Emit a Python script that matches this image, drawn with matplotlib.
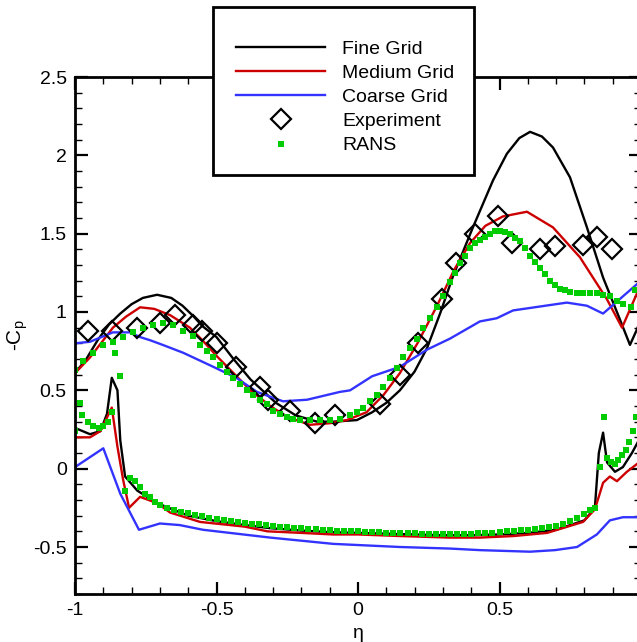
import matplotlib
matplotlib.use('Agg')
from matplotlib import pyplot as plt
from matplotlib.patches import Rectangle
from matplotlib.ticker import MultipleLocator, FuncFormatter

plt.rcParams['font.family'] = ['Liberation Sans', 'DejaVu Sans']

# Fine grid
fine_up_x = [-1.0, -0.96, -0.92, -0.88, -0.84, -0.80, -0.76, -0.71, -0.66, -0.62, -0.58, -0.55, -0.50, -0.44,
             -0.38, -0.29, -0.22, -0.145, -0.088, -0.004, 0.05, 0.10, 0.148, 0.20, 0.244, 0.29, 0.336, 0.406,
             0.477, 0.526, 0.57, 0.608, 0.65, 0.689, 0.749, 0.809, 0.866, 0.926, 0.961, 0.986, 1.0]
fine_up_y = [0.61, 0.70, 0.82, 0.92, 0.99, 1.05, 1.09, 1.11, 1.09, 1.04, 0.97, 0.91, 0.84, 0.70,
             0.57, 0.42, 0.34, 0.30, 0.30, 0.31, 0.36, 0.42, 0.50, 0.62, 0.77, 0.99, 1.23, 1.54,
             1.84, 2.01, 2.11, 2.15, 2.12, 2.05, 1.86, 1.54, 1.22, 0.95, 0.79, 0.89, 0.96]
fine_lo_x = [-1.0, -0.947, -0.91, -0.887, -0.87, -0.85, -0.84, -0.823, -0.78, -0.71, -0.60, -0.50, -0.40,
             -0.31, -0.20, -0.10, 0.0, 0.1, 0.2, 0.3, 0.4, 0.5, 0.6, 0.7, 0.8, 0.837, 0.851, 0.866,
             0.88, 0.908, 0.936, 0.968, 0.986, 1.0]
fine_lo_y = [0.26, 0.22, 0.24, 0.35, 0.58, 0.50, 0.18, -0.05, -0.14, -0.22, -0.30, -0.335, -0.36,
             -0.38, -0.395, -0.405, -0.41, -0.415, -0.42, -0.425, -0.425, -0.42, -0.41, -0.39, -0.33, -0.25,
             0.10, 0.23, 0.04, -0.02, 0.01, 0.10, 0.16, 0.21]

# Medium grid
med_up_x = [-1.0, -0.947, -0.90, -0.866, -0.82, -0.77, -0.72, -0.664, -0.594, -0.55, -0.50, -0.44, -0.38,
            -0.31, -0.25, -0.17, -0.10, -0.04, 0.03, 0.09, 0.148, 0.21, 0.265, 0.29, 0.34, 0.396, 0.45,
            0.512, 0.597, 0.689, 0.784, 0.88, 0.933, 0.986, 1.0]
med_up_y = [0.61, 0.71, 0.82, 0.90, 0.97, 1.03, 1.02, 0.98, 0.90, 0.82, 0.72, 0.61, 0.50,
            0.40, 0.33, 0.28, 0.29, 0.31, 0.36, 0.47, 0.61, 0.80, 0.99, 1.08, 1.27, 1.44, 1.55,
            1.61, 1.64, 1.54, 1.35, 1.08, 0.90, 1.12, 1.17]
med_lo_x = [-1.0, -0.947, -0.91, -0.87, -0.85, -0.83, -0.809, -0.77, -0.71, -0.664, -0.558, -0.40, -0.32,
            -0.2, -0.088, 0.0, 0.148, 0.325, 0.43, 0.55, 0.668, 0.795, 0.837, 0.866, 0.89, 0.915, 0.95,
            0.986, 1.0]
med_lo_y = [0.20, 0.20, 0.24, 0.39, 0.14, -0.07, -0.25, -0.18, -0.22, -0.28, -0.34, -0.37, -0.40,
            -0.41, -0.42, -0.42, -0.43, -0.44, -0.44, -0.43, -0.41, -0.34, -0.26, -0.09, -0.05, -0.08, -0.02,
            0.03, 0.05]

# Coarse grid
coarse_up_x = [-1.0, -0.947, -0.866, -0.806, -0.77, -0.735, -0.69, -0.618, -0.523, -0.43, -0.406, -0.357,
               -0.265, -0.18, -0.064, -0.028, 0.05, 0.148, 0.244, 0.325, 0.431, 0.49, 0.548, 0.738, 0.809,
               0.866, 1.0]
coarse_up_y = [0.80, 0.81, 0.87, 0.87, 0.84, 0.82, 0.79, 0.74, 0.66, 0.58, 0.55, 0.49,
               0.43, 0.44, 0.49, 0.50, 0.59, 0.65, 0.76, 0.83, 0.94, 0.96, 1.01, 1.06, 1.04,
               0.99, 1.20]
coarse_lo_x = [-1.0, -0.9, -0.84, -0.774, -0.70, -0.63, -0.548, -0.31, -0.088, 0.148, 0.325, 0.431, 0.608,
               0.696, 0.774, 0.844, 0.89, 0.936, 1.0]
coarse_lo_y = [0.01, 0.13, -0.16, -0.39, -0.35, -0.36, -0.39, -0.44, -0.48, -0.50, -0.51, -0.52, -0.53,
               -0.52, -0.50, -0.42, -0.33, -0.31, -0.31]

# Experiment
exp_x = [-0.954, -0.87, -0.78, -0.70, -0.647, -0.583, -0.55, -0.498, -0.43, -0.346, -0.318, -0.24, -0.152,
         -0.081, 0.078, 0.148, 0.212, 0.297, 0.346, 0.413, 0.495, 0.544, 0.643, 0.696, 0.795, 0.844, 0.898]
exp_y = [0.88, 0.88, 0.90, 0.93, 0.98, 0.92, 0.88, 0.80, 0.65, 0.52, 0.44, 0.37, 0.29,
         0.34, 0.41, 0.60, 0.80, 1.08, 1.31, 1.50, 1.61, 1.44, 1.40, 1.42, 1.43, 1.48, 1.40]

# RANS
rans_up_x = [-1.0, -0.972, -0.936, -0.901, -0.866, -0.830, -0.795, -0.760, -0.724, -0.689, -0.654, -0.618,
             -0.583, -0.558, -0.534, -0.512, -0.488, -0.463, -0.442, -0.417, -0.392, -0.371, -0.346, -0.322,
             -0.300, -0.276, -0.251, -0.230, -0.205, -0.170, -0.134, -0.099, -0.064, -0.028, -0.004, 0.018,
             0.042, 0.067, 0.088, 0.113, 0.138, 0.159, 0.184, 0.208, 0.230, 0.254, 0.279, 0.300, 0.325,
             0.343, 0.360, 0.378, 0.396, 0.413, 0.431, 0.449, 0.466, 0.484, 0.502, 0.519, 0.537, 0.555,
             0.572, 0.590, 0.608, 0.625, 0.643, 0.661, 0.678, 0.696, 0.714, 0.731, 0.749, 0.774, 0.795,
             0.820, 0.845, 0.866, 0.890, 0.915, 0.936, 0.965, 0.98]
rans_up_y = [0.63, 0.69, 0.74, 0.79, 0.81, 0.84, 0.87, 0.90, 0.92, 0.93, 0.92, 0.88,
             0.85, 0.79, 0.75, 0.71, 0.66, 0.62, 0.58, 0.54, 0.50, 0.47, 0.44, 0.41,
             0.37, 0.35, 0.33, 0.32, 0.31, 0.31, 0.31, 0.31, 0.32, 0.34, 0.36, 0.39,
             0.43, 0.47, 0.52, 0.58, 0.64, 0.71, 0.77, 0.83, 0.90, 0.96, 1.03, 1.10, 1.19,
             1.25, 1.31, 1.36, 1.41, 1.44, 1.46, 1.48, 1.50, 1.52, 1.52, 1.51, 1.50, 1.47,
             1.45, 1.41, 1.36, 1.32, 1.28, 1.24, 1.20, 1.17, 1.15, 1.14, 1.13, 1.12, 1.12,
             1.12, 1.12, 1.11, 1.10, 1.07, 1.05, 1.03, 1.14]
rans_lo_x = [-1.0, -0.982, -0.975, -0.955, -0.936, -0.915, -0.90, -0.883, -0.87, -0.86, -0.84, -0.822, -0.805,
             -0.788, -0.77, -0.753, -0.735, -0.717, -0.70, -0.675, -0.65, -0.625, -0.60, -0.575, -0.55,
             -0.525, -0.50, -0.475, -0.45, -0.425, -0.40, -0.375, -0.35, -0.325, -0.30, -0.275, -0.25,
             -0.225, -0.20, -0.175, -0.15, -0.125, -0.10, -0.075, -0.05, -0.025, 0.0, 0.025, 0.05, 0.075,
             0.10, 0.125, 0.15, 0.175, 0.20, 0.225, 0.25, 0.275, 0.30, 0.325, 0.35, 0.375, 0.40, 0.425,
             0.45, 0.475, 0.50, 0.525, 0.55, 0.575, 0.60, 0.625, 0.65, 0.675, 0.70, 0.725, 0.75, 0.775,
             0.80, 0.82, 0.837, 0.855, 0.869, 0.88, 0.894, 0.908, 0.918, 0.933, 0.947, 0.958, 0.972, 0.982]
rans_lo_y = [0.24, 0.42, 0.34, 0.30, 0.27, 0.26, 0.27, 0.30, 0.36, 0.74, 0.59, -0.14, -0.06,
             -0.08, -0.12, -0.16, -0.18, -0.21, -0.23, -0.25, -0.265, -0.275, -0.285, -0.295, -0.305,
             -0.315, -0.32, -0.33, -0.335, -0.34, -0.345, -0.35, -0.355, -0.36, -0.365, -0.37, -0.375,
             -0.378, -0.38, -0.385, -0.388, -0.39, -0.393, -0.395, -0.397, -0.40, -0.40, -0.403, -0.405, -0.407,
             -0.408, -0.41, -0.41, -0.412, -0.413, -0.414, -0.415, -0.415, -0.416, -0.416, -0.416, -0.415,
             -0.414, -0.412, -0.41, -0.408, -0.405, -0.40, -0.397, -0.393, -0.39, -0.385, -0.38, -0.375,
             -0.365, -0.35, -0.335, -0.315, -0.29, -0.265, -0.25, 0.01, 0.33, 0.07, 0.045, 0.03, 0.055,
             0.09, 0.12, 0.17, 0.24, 0.33]

fig = plt.figure(figsize=(6.37, 6.42), dpi=100)
ax = fig.add_axes([75 / 637, 48 / 642, 566 / 637, 517 / 642])

lw = 1.7
ax.plot(fine_up_x, fine_up_y, color='black', lw=lw, label='Fine Grid')
ax.plot(fine_lo_x, fine_lo_y, color='black', lw=lw)
ax.plot(med_up_x, med_up_y, color='#cc0000', lw=lw, label='Medium Grid')
ax.plot(med_lo_x, med_lo_y, color='#cc0000', lw=lw)
ax.plot(coarse_up_x, coarse_up_y, color='#3333ff', lw=lw, label='Coarse Grid')
ax.plot(coarse_lo_x, coarse_lo_y, color='#3333ff', lw=lw)
ax.plot(exp_x, exp_y, linestyle='none', marker='D', markersize=10, markerfacecolor='none',
        markeredgecolor='black', markeredgewidth=1.6, label='Experiment')
ax.plot(rans_up_x, rans_up_y, linestyle='none', marker='s', markersize=4.8, color='#00cc00',
        markeredgewidth=0, label='RANS')
ax.plot(rans_lo_x, rans_lo_y, linestyle='none', marker='s', markersize=4.8, color='#00cc00',
        markeredgewidth=0)

ax.set_xlim(-1, 1)
ax.set_ylim(-0.8, 2.5)
ax.xaxis.set_major_locator(MultipleLocator(0.5))
ax.xaxis.set_minor_locator(MultipleLocator(0.1))
ax.yaxis.set_major_locator(MultipleLocator(0.5))
ax.yaxis.set_minor_locator(MultipleLocator(0.1))
ax.xaxis.set_major_formatter(FuncFormatter(lambda v, p: '%g' % v))
ax.yaxis.set_major_formatter(FuncFormatter(lambda v, p: '%g' % v))
ax.tick_params(which='both', direction='in', top=True, right=True, labelsize=14)
ax.tick_params(which='major', length=9, width=1.6, pad=6)
ax.tick_params(which='minor', length=5, width=1.0)
for s in ax.spines.values():
    s.set_linewidth(2)

ax.set_xlabel('η', fontsize=14, labelpad=4)
ax.set_ylabel('-C$_\\mathregular{p}$', fontsize=15, labelpad=2)

# legend box
fig.patches.append(Rectangle((213 / 637, 1 - 175 / 642), 261 / 637, 168 / 642, transform=fig.transFigure,
                             facecolor='white', edgecolor='black', linewidth=2, zorder=4))
fig.legend(loc='upper left', bbox_to_anchor=(236 / 637, 1 - 40 / 642), frameon=False, fontsize=14,
           handlelength=4.6, handletextpad=0.85, labelspacing=0.34, borderpad=0, borderaxespad=0).set_zorder(6)

fig.savefig('out.png', dpi=100)
